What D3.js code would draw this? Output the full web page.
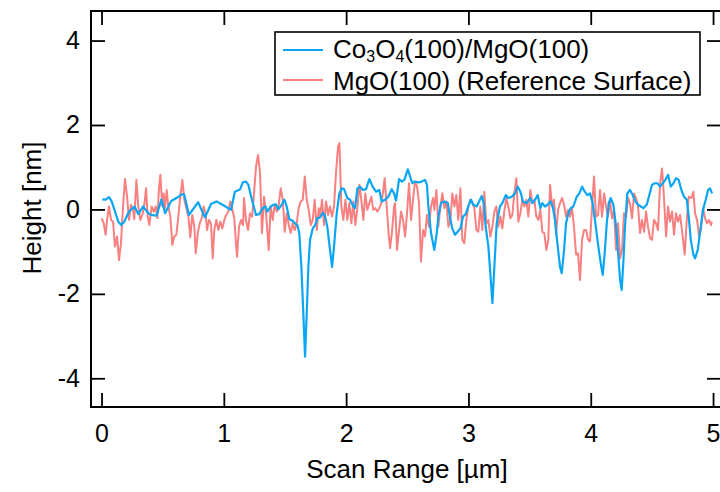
<!DOCTYPE html>
<html>
<head>
<meta charset="utf-8">
<script src="https://cdn.jsdelivr.net/npm/d3@7"></script>
<style>
  html, body { margin: 0; padding: 0; background: #fff; }
  svg { display: block; }
  text { font-family: "Liberation Sans", Arial, Helvetica, sans-serif; fill: #000; }
</style>
</head>
<body>
<svg id="chart" width="720" height="492"></svg>
<script>
// ---- data ----
const seriesNames = ["Co3O4(100)/MgO(100)", "MgO(100) (Reference Surface)"];
const xTicks = [0, 1, 2, 3, 4, 5];
const yTicks = [-4, -2, 0, 2, 4];
const xTitle = "Scan Range [µm]";
const yTitle = "Height [nm]";

const blueX = [0.007,0.034,0.061,0.083,0.11,0.137,0.16,0.186,0.225,0.27,0.30,0.34,0.38,0.405,0.45,0.49,0.52,0.57,0.63,0.656,0.677,0.715,0.79,0.846,0.895,0.94,0.996,1.059,1.09,1.132,
  1.155,1.181,1.201,1.220,1.241,1.263,1.290,1.318,1.340,1.356,1.383,1.405,1.427,1.446,1.473,1.495,1.514,1.536,1.558,1.582,1.601,1.617,1.634,1.650,1.664,1.678,1.691,1.705,1.727,1.746,
  1.765,1.787,1.809,1.827,1.846,1.868,1.885,1.901,1.923,1.945,1.964,1.983,2.010,2.032,2.059,2.073,2.092,2.114,2.136,2.163,2.190,2.217,2.244,2.271,2.291,2.318,2.345,2.373,2.392,2.408,
  2.433,2.455,2.476,2.504,2.523,2.541,2.563,2.590,2.618,2.645,2.661,2.672,2.694,2.721,2.741,2.754,2.776,2.803,2.831,2.850,2.868,2.890,2.912,2.934,2.956,2.978,2.999,3.021,3.040,3.068,
  3.087,3.109,3.125,3.141,3.163,3.179,3.196,3.212,3.231,3.258,3.277,3.305,3.326,3.354,3.381,3.403,3.425,3.446,3.477,3.504,3.523,3.545,3.566,3.588,3.604,3.626,3.648,3.670,
  3.689,3.708,3.727,3.749,3.763,3.782,3.798,3.817,3.836,3.858,3.885,3.907,3.929,3.951,3.972,3.994,4.016,4.038,4.062,4.082,4.098,4.114,4.131,4.147,4.163,4.185,4.207,4.226,4.240,4.253,
  4.266,4.280,4.299,4.321,4.343,4.365,4.387,4.409,4.430,4.458,4.479,4.501,4.523,4.545,4.567,4.589,4.610,4.632,4.654,4.676,4.697,4.719,4.741,4.763,4.785,4.801,4.818,4.839,4.853,4.875,
  4.896,4.918,4.940,4.959,4.975,4.992];
const blueY = [0.24,0.23,0.29,0.19,-0.05,-0.29,-0.37,-0.29,-0.05,0.07,-0.11,0.07,-0.08,-0.13,-0.15,0.24,-0.09,0.2,0.3,0.36,0.35,-0.13,0.17,-0.19,0.13,0.19,0.1,-0.01,0.42,0.47,
  0.64,0.66,0.58,0.34,0.11,-0.13,-0.11,0.03,0.07,-0.05,0.07,0.11,0.12,0.00,0.11,0.23,0.07,-0.23,-0.26,-0.33,-0.37,-0.56,-1.36,-2.46,-3.49,-2.46,-1.36,-0.72,-0.45,-0.37,
  -0.21,-0.19,-0.08,-0.15,-0.41,-0.96,-1.36,-0.88,-0.09,0.38,0.50,0.48,0.27,0.23,0.07,0.03,0.50,0.54,0.46,0.48,0.72,0.54,0.42,0.46,0.19,0.23,0.30,0.48,0.38,0.21,
  0.72,0.66,0.70,0.95,0.78,0.62,0.66,0.64,0.66,0.70,0.58,0.07,-0.56,-0.96,-0.56,-0.17,0.15,0.19,0.15,-0.21,-0.45,-0.60,-0.53,-0.45,-0.17,-0.11,0.07,0.23,0.11,0.07,
  0.19,0.32,0.15,-0.41,-0.88,-1.51,-2.22,-1.36,-0.33,0.07,0.15,0.34,0.27,0.30,0.38,0.54,0.42,0.19,0.15,0.27,0.15,0.23,0.34,0.03,0.15,0.07,0.11,0.19,
  0.07,-0.25,-0.80,-1.36,-1.51,-0.96,-0.33,-0.09,0.03,0.07,0.30,0.38,0.54,0.42,0.34,0.38,0.15,-0.33,-0.88,-1.28,-1.55,-1.04,-0.33,0.15,0.27,0.11,-0.41,-1.12,-1.67,-1.91,
  -1.28,-0.41,0.38,0.46,0.34,0.19,0.11,0.07,0.03,0.11,0.34,0.58,0.62,0.62,0.54,0.62,0.70,0.82,0.54,0.62,0.74,0.70,0.46,0.30,0.23,-0.17,-0.72,-1.07,-1.16,-0.96,
  -0.49,-0.01,0.23,0.46,0.50,0.38];

const redX = [0.001,0.018,0.034,0.045,0.061,0.078,0.094,0.110,0.127,0.143,0.159,0.176,0.192,0.209,0.225,0.241,0.258,0.268,0.285,0.301,0.317,0.334,0.350,0.364,0.378,0.391,0.410,0.427,0.443,0.457,
  0.470,0.481,0.497,0.508,0.519,0.533,0.546,0.563,0.579,0.595,0.612,0.628,0.644,0.661,0.677,0.693,0.710,0.726,0.742,0.759,0.770,0.787,0.803,0.819,0.836,0.852,0.863,0.879,0.895,0.909,
  0.922,0.939,0.955,0.971,0.988,1.004,1.020,1.037,1.053,1.070,1.086,1.097,1.108,1.124,1.141,1.157,
  1.165,1.181,1.198,1.214,1.231,1.247,1.263,1.280,1.296,1.312,1.329,1.345,1.367,1.383,1.400,1.416,1.433,1.449,1.465,1.482,1.498,1.514,1.531,1.547,1.563,1.580,1.596,1.612,1.629,1.645,
  1.662,1.678,1.694,1.711,1.727,1.743,1.760,1.776,1.787,1.803,1.819,1.836,1.852,1.868,1.885,1.901,1.917,1.934,1.945,1.961,1.977,1.994,2.010,2.026,2.043,2.059,2.075,2.092,2.108,2.124,
  2.141,2.157,2.173,2.190,2.206,2.222,2.239,2.255,2.271,2.288,2.304,2.315,2.331,2.348,2.359,2.375,2.392,
  2.400,2.416,2.433,2.449,2.465,2.482,2.498,2.514,2.531,2.547,2.563,2.580,2.596,2.612,2.629,2.645,2.661,2.678,2.694,2.711,2.721,2.738,2.754,2.770,2.787,2.803,2.819,2.836,2.852,2.868,
  2.885,2.901,2.917,2.934,2.950,2.966,2.983,2.999,3.015,3.032,3.048,3.065,3.081,3.097,3.114,3.130,3.146,3.163,3.179,3.196,3.212,3.228,3.244,3.261,3.277,3.293,3.310,3.326,3.343,3.359,
  3.375,3.392,3.408,3.425,3.441,3.457,3.473,3.490,3.506,3.523,3.539,3.555,3.572,3.588,3.604,3.620,3.637,3.653,
  3.667,3.684,3.700,3.716,3.733,3.749,3.765,3.782,3.798,3.814,3.831,3.847,3.863,3.880,3.896,3.912,3.929,3.945,3.962,3.978,3.994,4.011,4.027,4.043,4.060,4.076,4.092,4.109,4.125,4.141,
  4.158,4.174,4.190,4.207,4.223,4.240,4.256,4.272,4.289,4.305,4.321,4.338,4.354,4.370,4.387,4.403,4.419,4.436,4.452,4.468,4.485,4.501,4.517,4.534,4.550,4.567,4.583,4.599,4.616,4.632,
  4.648,4.665,4.681,4.697,4.714,4.730,4.746,4.768,4.785,4.801,4.823,4.839,4.853,4.869,4.886,4.902,4.918,4.935,4.951,4.967,4.984,4.99];
const redY = [-0.21,-0.33,-0.60,-0.25,0.07,-0.25,-0.29,-0.88,-0.64,-1.20,-0.80,0.07,0.72,0.30,-0.25,0.11,-0.01,-0.23,0.70,0.07,-0.25,-0.13,0.11,0.50,-0.17,-0.37,0.07,-0.05,0.07,-0.21,
  0.50,0.82,0.07,0.38,0.03,0.46,0.07,-0.17,-0.84,-0.64,-0.60,-0.17,0.30,0.70,0.23,0.03,-0.17,-0.66,-0.13,-0.41,-1.04,-0.56,-0.33,-0.21,0.07,-0.13,-0.49,-0.25,-0.33,-1.16,
  -0.49,-0.25,-0.49,-0.29,-0.45,-0.25,-0.13,-0.05,0.19,-0.01,-0.21,-0.72,-1.12,-0.41,-0.25,-0.37,
  0.27,-0.25,-0.49,-0.09,-0.17,0.38,1.01,1.29,0.86,-0.56,0.30,-0.09,-0.96,0.07,-0.25,0.11,-0.05,0.11,0.50,0.23,-0.53,-0.09,-0.37,-0.56,-0.33,-0.49,-0.33,0.03,0.19,0.23,
  0.78,0.23,-0.01,-0.37,-0.25,0.23,-0.49,0.03,-0.17,0.23,-0.37,0.19,-0.13,0.07,-0.17,0.07,0.86,1.49,1.57,0.07,-0.25,0.23,-0.25,0.15,-0.33,0.19,-0.37,0.03,0.58,0.23,
  -0.25,0.38,-0.01,0.15,0.30,-0.01,0.03,-0.05,0.03,0.15,0.46,0.74,0.11,-0.60,-0.92,-0.53,0.07,
  0.15,-0.96,-0.49,-0.05,-0.25,-0.64,-0.09,0.62,-0.25,0.23,0.66,0.54,0.15,-1.24,-0.49,-0.64,-0.13,-0.41,0.07,0.27,-0.01,0.46,-0.41,0.07,0.38,0.03,0.19,-0.41,-0.29,0.38,
  0.07,0.34,-0.25,0.50,-0.72,-0.80,-0.25,0.07,0.23,0.15,0.03,-0.49,-0.53,0.07,-0.49,0.42,-0.33,-0.25,-0.64,-0.41,-0.05,0.07,-0.41,-0.17,-0.45,-0.05,0.27,0.07,-0.21,-0.13,
  0.38,0.74,-0.29,-0.09,0.23,0.07,0.23,-0.17,0.46,0.15,0.23,-0.17,-0.25,-0.01,-0.53,-0.56,-0.96,-0.72,
  0.58,0.07,0.23,-0.60,-0.01,0.15,0.27,0.11,-0.17,-0.01,-0.17,0.03,-0.41,-1.07,-1.04,-1.67,-0.72,-0.49,-0.49,-0.72,-0.76,0.07,0.78,-0.17,-0.13,0.46,-0.17,0.38,0.07,-0.17,
  0.19,-0.21,-0.01,-0.96,-0.33,-1.16,-0.96,-0.09,-0.17,0.27,0.15,-0.21,0.38,0.27,0.07,-0.56,-0.25,-0.53,-0.05,-0.41,-0.68,-0.72,-0.25,-0.33,-0.49,0.62,0.97,0.27,-0.64,0.07,
  -0.29,-0.05,-0.60,-0.09,-0.29,-0.13,-0.49,-1.07,-0.25,0.30,0.27,0.42,-0.09,-0.25,-0.64,-0.45,0.03,-0.21,-0.33,-0.25,-0.37,-0.29];

// ---- layout ----
const plot = { left: 91, top: 11, right: 721, bottom: 407 };
const blueColor = "#0aa6f4";
const redColor = "#f88080";

const svg = d3.select("#chart");

const x = d3.scaleLinear().domain([-0.086, 5.065]).range([plot.left, plot.right]);
const y = d3.scaleLinear().domain([-4.68, 4.70]).range([plot.bottom, plot.top]);

const blueData = blueX.map((v, i) => [v, blueY[i]]);
const redData = redX.map((v, i) => [v, redY[i]]);

const line = d3.line().x(d => x(d[0])).y(d => y(d[1]));

svg.append("defs").append("clipPath").attr("id", "clip")
  .append("rect").attr("x", plot.left).attr("y", plot.top)
  .attr("width", plot.right - plot.left).attr("height", plot.bottom - plot.top);

const g = svg.append("g").attr("clip-path", "url(#clip)");
g.append("path").datum(redData).attr("d", line)
  .attr("fill", "none").attr("stroke", redColor).attr("stroke-width", 2).attr("stroke-linejoin", "round");
g.append("path").datum(blueData).attr("d", line)
  .attr("fill", "none").attr("stroke", blueColor).attr("stroke-width", 2.2).attr("stroke-linejoin", "round");

// axes
const tickLen = 14;
const tickFont = 25;
const titleFont = 26;
const fmt = d => String(d);   // plain hyphen-minus as in the reference
function styleAxis(sel, showText) {
  sel.select(".domain").remove();
  sel.selectAll(".tick line").attr("stroke", "#000").attr("stroke-width", 1.8);
  sel.selectAll(".tick text")
    .style("font-family", '"Liberation Sans", Arial, Helvetica, sans-serif')
    .style("font-size", tickFont + "px").attr("fill", "#000");
  if (!showText) sel.selectAll(".tick text").remove();
}

svg.append("g").attr("transform", `translate(0,${plot.bottom})`)
  .call(d3.axisBottom(x).tickValues(xTicks).tickFormat(fmt).tickSizeInner(-tickLen).tickSizeOuter(0).tickPadding(17))
  .call(s => styleAxis(s, true));
svg.append("g").attr("transform", `translate(0,${plot.top})`)
  .call(d3.axisTop(x).tickValues(xTicks).tickSizeInner(-tickLen).tickSizeOuter(0))
  .call(s => styleAxis(s, false));
svg.append("g").attr("transform", `translate(${plot.left},0)`)
  .call(d3.axisLeft(y).tickValues(yTicks).tickFormat(fmt).tickSizeInner(-tickLen).tickSizeOuter(0).tickPadding(11))
  .call(s => styleAxis(s, true));
svg.append("g").attr("transform", `translate(${plot.right},0)`)
  .call(d3.axisRight(y).tickValues(yTicks).tickSizeInner(-tickLen).tickSizeOuter(0))
  .call(s => styleAxis(s, false));

// frame
svg.append("rect").attr("x", plot.left).attr("y", plot.top)
  .attr("width", plot.right - plot.left).attr("height", plot.bottom - plot.top)
  .attr("fill", "none").attr("stroke", "#000").attr("stroke-width", 2);

// titles
svg.append("text").attr("x", 407).attr("y", 478)
  .attr("text-anchor", "middle").style("font-size", titleFont + "px").text(xTitle);
svg.append("text").attr("transform", "translate(41,208) rotate(-90)")
  .attr("text-anchor", "middle").style("font-size", titleFont + "px").text(yTitle);

// legend
const lg = svg.append("g");
lg.append("rect").attr("x", 275).attr("y", 32).attr("width", 425).attr("height", 63)
  .attr("fill", "#fff").attr("stroke", "#000").attr("stroke-width", 1.6);
const rows = [
  { color: blueColor, cy: 50 },
  { color: redColor, cy: 80 }
];
rows.forEach(r => {
  lg.append("line").attr("x1", 283).attr("x2", 323).attr("y1", r.cy).attr("y2", r.cy)
    .attr("stroke", r.color).attr("stroke-width", 2);
});
const t1 = lg.append("text").attr("x", 333).attr("y", 58).style("font-size", titleFont + "px");
t1.append("tspan").text("Co");
t1.append("tspan").attr("dy", 4).style("font-size", "16px").text("3");
t1.append("tspan").attr("dy", -4).text("O");
t1.append("tspan").attr("dy", 4).style("font-size", "16px").text("4");
t1.append("tspan").attr("dy", -4).text("(100)/MgO(100)");
lg.append("text").attr("x", 333).attr("y", 90).style("font-size", titleFont + "px").text(seriesNames[1]);
</script>
</body>
</html>
